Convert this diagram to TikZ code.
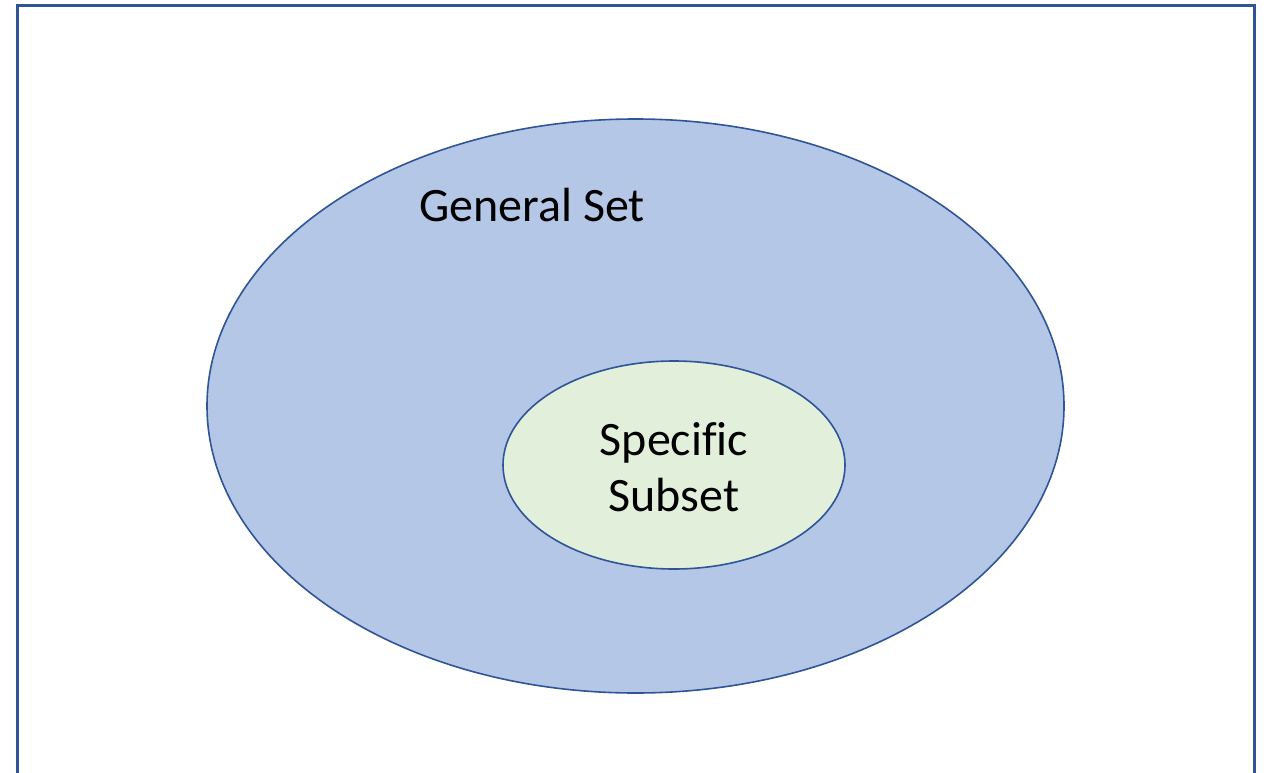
\documentclass[tikz,border=0pt]{standalone}
\usepackage{fontspec}
\setmainfont{Carlito}[Ligatures=NoCommon]
\usetikzlibrary{shapes.geometric}
\definecolor{frameblue}{HTML}{2F5597}
\definecolor{setfill}{HTML}{B4C7E7}
\definecolor{subfill}{HTML}{E2EFDA}
\begin{document}
\begin{tikzpicture}[x=1pt,y=-1pt,
  setshape/.style={ellipse,draw=frameblue,line width=1.6pt,inner sep=0pt},
  lbl/.style={font=\fontsize{48}{56}\selectfont,align=center,text=black}]
\useasboundingbox (0,0) rectangle (1268,773);
\begin{scope}
\clip (0,0) rectangle (1268,773);
\coordinate (fbl) at (17.5,790);
\coordinate (ftl) at (17.5,5.5);
\coordinate (ftr) at (1254.5,5.5);
\coordinate (fbr) at (1254.5,790);
\draw[frameblue,line width=3pt] (fbl) -- (ftl) -- (ftr) -- (fbr);
\end{scope}
\node[setshape,fill=setfill,minimum width=857pt,minimum height=574pt] (general) at (635.5,406) {};
\node[setshape,fill=subfill,minimum width=342pt,minimum height=208pt] (specific) at (674,465) {};
\node[lbl] (generallbl) at (532,205) {General Set};
\node[lbl] (specificlbl) at (674,467) {Specific\\Subset};
\end{tikzpicture}
\end{document}
